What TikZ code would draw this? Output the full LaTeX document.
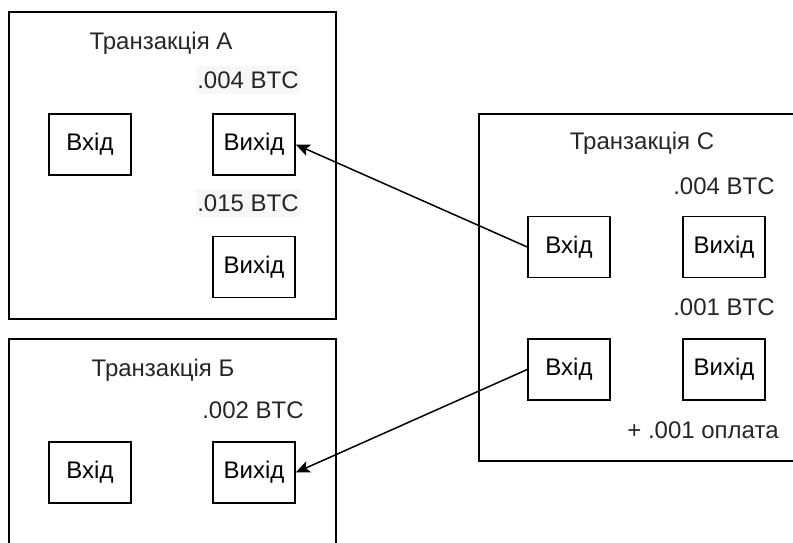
\documentclass[tikz,border=0pt]{standalone}
\usepackage{fontspec}
\setmainfont{Liberation Sans}
\usetikzlibrary{arrows.meta}
\tikzset{
  pane/.style={draw, line width=1.5pt, inner sep=0pt, minimum width=#1},
  cell/.style={draw, line width=1.5pt, inner sep=0pt, minimum width=82pt, minimum height=61pt},
  lbl/.style={inner sep=0pt, text=black!85},
  amount/.style={lbl, fill=black!3, minimum width=104pt, minimum height=28pt},
  link/.style={line width=1.5pt, -{Stealth[length=14pt,width=12pt,inset=3pt]}},
}
\begin{document}
\begin{tikzpicture}[x=1pt, y=-1pt, font=\fontsize{24}{28}\selectfont]
\useasboundingbox (0,0) rectangle (793,542);
\clip (0,0) rectangle (793,542);

% Transaction A
\node[pane=327pt, minimum height=307pt] (ta) at (172.5,165.5) {};
\node[lbl] (taT) at (161,43) {Транзакція A};
\node[amount] (taV1) at (248,80) {.004 BTC};
\node[amount] (taV2) at (248,203) {.015 BTC};
\node[cell] (taIn) at (90,144.5) {Вхід};
\node[cell] (taOut1) at (254,144.5) {Вихід};
\node[cell] (taOut2) at (254,267) {Вихід};

% Transaction B
\node[pane=327pt, minimum height=261pt] (tb) at (172.5,469.5) {};
\node[lbl] (tbT) at (163,370) {Транзакція Б};
\node[lbl] (tbV) at (253,410) {.002 BTC};
\node[cell] (tbIn) at (90,472.5) {Вхід};
\node[cell] (tbOut) at (254,472.5) {Вихід};

% Transaction C
\node[pane=341pt, minimum height=347pt] (tc) at (649.5,287.5) {};
\node[lbl] (tcT) at (642,143) {Транзакція C};
\node[lbl] (tcV1) at (724,186) {.004 BTC};
\node[lbl] (tcV2) at (724,307) {.001 BTC};
\node[lbl] (tcFee) at (703,430) {+ .001 оплата};
\node[cell] (tcIn1) at (569,247) {Вхід};
\node[cell] (tcOut1) at (724,247) {Вихід};
\node[cell] (tcIn2) at (569,369.5) {Вхід};
\node[cell] (tcOut2) at (724,369.5) {Вихід};

% Spent outputs
\draw[link] (tcIn1.west) -- (taOut1.east);
\draw[link] (tcIn2.west) -- (tbOut.east);
\end{tikzpicture}
\end{document}
